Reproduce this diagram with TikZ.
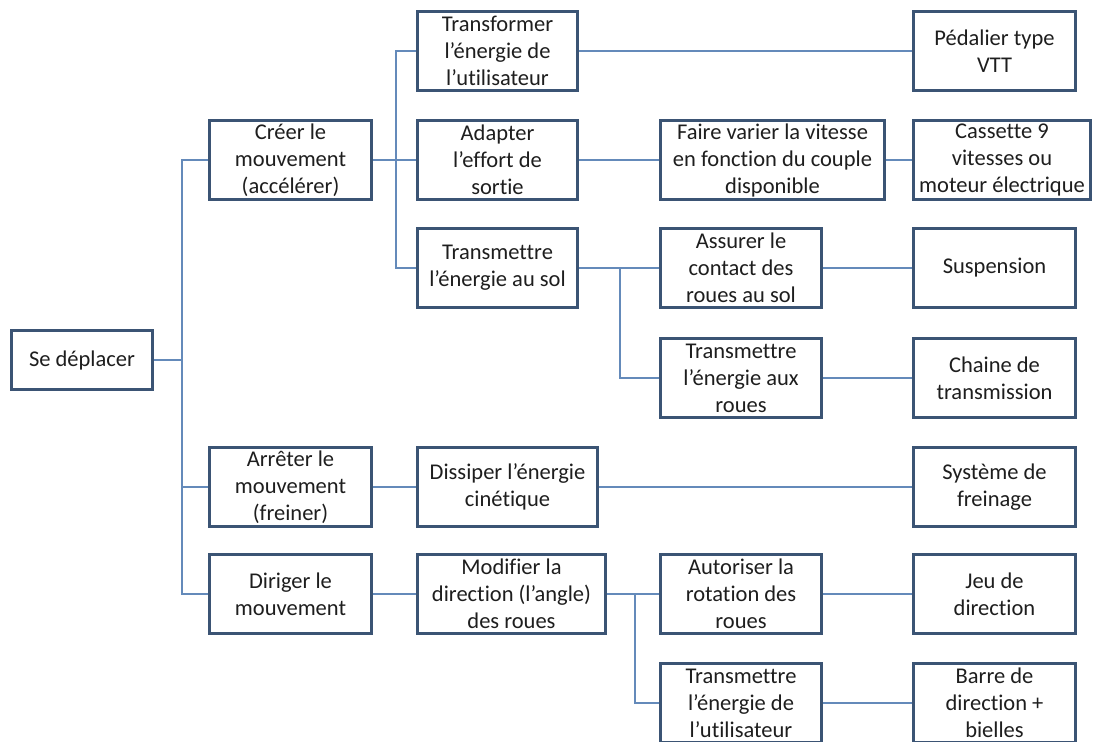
\documentclass[tikz,border=0pt]{standalone}
\usepackage{fontspec}
\setmainfont[Ligatures=CommonOff]{Carlito}
\usetikzlibrary{positioning}
\definecolor{boxline}{RGB}{59,84,116}
\definecolor{treeline}{RGB}{100,138,186}
\definecolor{boxtext}{RGB}{30,30,30}

\begin{document}
\begin{tikzpicture}[x=1pt,y=-1pt,
	box/.style={draw=boxline,line width=3pt,fill=white,align=center,text=boxtext,
		font=\fontsize{22.5}{27}\selectfont,minimum width=162pt,minimum height=79pt,inner sep=1pt},
	link/.style={draw=treeline,line width=1.6pt}]
	\useasboundingbox (0,0) rectangle (1093,742);

	\node[box,anchor=west,minimum width=141pt,minimum height=59pt] (root) at (10,360) {Se déplacer};

	\node[box,anchor=west] (creer) at (208,160) {Créer le\\mouvement\\(accélérer)};
	\node[box,anchor=west] (arreter) at (208,487) {Arrêter le\\mouvement\\(freiner)};
	\node[box] (diriger) [below=25pt of arreter] {Diriger le\\mouvement};

	\node[box,anchor=west,minimum width=160pt] (transformer) at (416,51) {Transformer\\l’énergie de\\l’utilisateur};
	\node[box,minimum width=160pt] (adapter) [right=43pt of creer] {Adapter\\l’effort de\\sortie};
	\node[box,minimum width=160pt] (sol) [below=26pt of adapter] {Transmettre\\l’énergie au sol};
	\node[box,minimum width=180pt] (dissiper) [right=43pt of arreter] {Dissiper l’énergie\\cinétique};
	\node[box,minimum width=188pt] (modifier) [right=43pt of diriger] {Modifier la\\direction (l’angle)\\des roues};

	\node[box,minimum width=224pt] (varier) [right=80pt of adapter] {Faire varier la vitesse\\en fonction du couple\\disponible};
	\node[box,minimum width=161pt] (assurer) [right=80pt of sol] {Assurer le\\contact des\\roues au sol};
	\node[box,minimum width=161pt] (roues) [below=28pt of assurer] {Transmettre\\l’énergie aux\\roues};
	\node[box,minimum width=161pt] (autoriser) [right=52pt of modifier] {Autoriser la\\rotation des\\roues};
	\node[box,minimum width=161pt] (util) [below=27pt of autoriser] {Transmettre\\l’énergie de\\l’utilisateur};

	\node[box] (pedalier) [right=333pt of transformer] {Pédalier type\\VTT};
	\node[box,minimum width=177pt] (cassette) [right=26pt of varier] {Cassette 9\\vitesses ou\\moteur électrique};
	\node[box] (suspension) [right=89pt of assurer] {Suspension};
	\node[box] (chaine) [right=89pt of roues] {Chaine de\\transmission};
	\node[box] (systeme) [right=313pt of dissiper] {Système de\\freinage};
	\node[box] (jeu) [right=89pt of autoriser] {Jeu de\\direction};
	\node[box] (barre) [right=89pt of util] {Barre de\\direction +\\bielles};

	% tree
	\draw[link] (root.east) -- ++(28pt,0) coordinate (j1);
	\draw[link] (j1) |- (creer.west) (j1) |- (arreter.west) (j1) |- (diriger.west);
	\draw[link] (creer.east) -- ++(23pt,0) coordinate (j2);
	\draw[link] (j2) |- (transformer.west) (j2) |- (adapter.west) (j2) |- (sol.west);
	\draw[link] (sol.east) -- ++(41pt,0) coordinate (j3);
	\draw[link] (j3) |- (assurer.west) (j3) |- (roues.west);
	\draw[link] (modifier.east) -- ++(28pt,0) coordinate (j4);
	\draw[link] (j4) |- (autoriser.west) (j4) |- (util.west);

	\draw[link] (transformer) -- (pedalier);
	\draw[link] (adapter) -- (varier);
	\draw[link] (varier) -- (cassette);
	\draw[link] (assurer) -- (suspension);
	\draw[link] (roues) -- (chaine);
	\draw[link] (arreter) -- (dissiper);
	\draw[link] (dissiper) -- (systeme);
	\draw[link] (diriger) -- (modifier);
	\draw[link] (autoriser) -- (jeu);
	\draw[link] (util) -- (barre);
\end{tikzpicture}
\end{document}
